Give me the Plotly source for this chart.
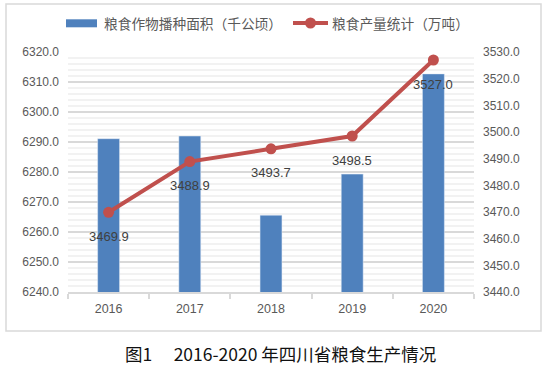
import plotly.graph_objects as go

years = ["2016", "2017", "2018", "2019", "2020"]
area = [6291.1, 6292.0, 6265.6, 6279.3, 6312.7]      # 粮食作物播种面积（千公顷）
output = [3469.9, 3488.9, 3493.7, 3498.5, 3527.0]    # 粮食产量统计（万吨）
name_area = "粮食作物播种面积（千公顷）"
name_output = "粮食产量统计（万吨）"
caption = "图1\u3000 2016-2020 年四川省粮食生产情况"

W, H = 547, 369
L, R, T, B = 68, 474, 52, 292  # plot area in pixels


def px(x):
    return (x - L) / (R - L)


def py(y):
    return (B - y) / (B - T)


BAR = "#4F81BD"
LINE = "#C0504D"
GRAY = "#595959"
FONT = "Liberation Sans, Noto Sans CJK SC, sans-serif"
CJK = "Noto Sans CJK SC, sans-serif"

fig = go.Figure()
fig.add_trace(go.Bar(x=years, y=area, name=name_area, marker_color=BAR,
                     width=0.27, yaxis="y", showlegend=False))
fig.add_trace(go.Scatter(x=years, y=output, name=name_output, yaxis="y2",
                         mode="lines+markers",
                         line=dict(color=LINE, width=4),
                         marker=dict(color=LINE, size=11),
                         showlegend=False))

for i, v in enumerate(output):
    fig.add_annotation(x=i, y=v, xref="x", yref="y2", text=f"{v:.1f}",
                       showarrow=False, yshift=-24,
                       font=dict(family=FONT, size=13, color="#404040"))

shapes = [
    # chart frame
    dict(type="rect", xref="paper", yref="paper",
         x0=px(6), x1=px(541), y0=py(331), y1=py(4),
         line=dict(color="#D9D9D9", width=1.5), layer="below"),
    # legend: bar swatch
    dict(type="rect", xref="paper", yref="paper",
         x0=px(66), x1=px(97), y0=py(27.3), y1=py(19.3),
         fillcolor=BAR, line=dict(width=0)),
    # legend: line swatch
    dict(type="line", xref="paper", yref="paper",
         x0=px(293), x1=px(328), y0=py(23), y1=py(23),
         line=dict(color=LINE, width=4)),
    dict(type="circle", xref="paper", yref="paper",
         x0=px(305), x1=px(316), y0=py(28.5), y1=py(17.5),
         fillcolor=LINE, line=dict(width=0)),
]

annotations = [
    dict(xref="paper", yref="paper", x=px(102), y=py(23), xanchor="left",
         yanchor="middle", text=name_area, showarrow=False,
         font=dict(family=CJK, size=13.7, color=GRAY)),
    dict(xref="paper", yref="paper", x=px(330), y=py(23), xanchor="left",
         yanchor="middle", text=name_output, showarrow=False,
         font=dict(family=CJK, size=13.7, color=GRAY)),
    dict(xref="paper", yref="paper", x=px(280), y=py(353), xanchor="center",
         yanchor="middle", text=caption, showarrow=False,
         font=dict(family=CJK, size=17.5, color="#111111")),
]
for a in annotations:
    fig.add_annotation(**a)

fig.update_layout(
    width=W, height=H,
    margin=dict(l=L, r=W - R, t=T, b=H - B, pad=0),
    paper_bgcolor="white", plot_bgcolor="white",
    font=dict(family=FONT, size=12, color=GRAY),
    shapes=shapes,
    showlegend=False,
    xaxis=dict(type="category", range=[-0.5, len(years) - 0.5],
               showgrid=False, showline=True,
               linecolor="#D9D9D9", linewidth=1.5,
               ticks="outside", tickson="boundaries", ticklen=5,
               tickcolor="#D9D9D9", tickwidth=1.5,
               tickfont=dict(size=12.5, color=GRAY), ticklabelstandoff=4),
    yaxis=dict(range=[6240, 6320], dtick=10, tick0=6240, tickformat=".1f",
               showgrid=True, gridcolor="#D9D9D9", gridwidth=1.5,
               zeroline=False, showline=False, ticks="",
               ticklabelstandoff=8,
               minor=dict(dtick=2, showgrid=True, gridcolor="#F2F2F2",
                          gridwidth=1.5),
               tickfont=dict(size=12, color=GRAY)),
    yaxis2=dict(range=[3440, 3530], dtick=10, tick0=3440, tickformat=".1f",
                overlaying="y", side="right", showgrid=False,
                zeroline=False, showline=False, ticks="",
                ticklabelstandoff=8,
                tickfont=dict(size=12, color=GRAY)),
)

fig.write_html("out.html",
               config={"displayModeBar": False},
               post_script="document.body.style.margin='0';")
